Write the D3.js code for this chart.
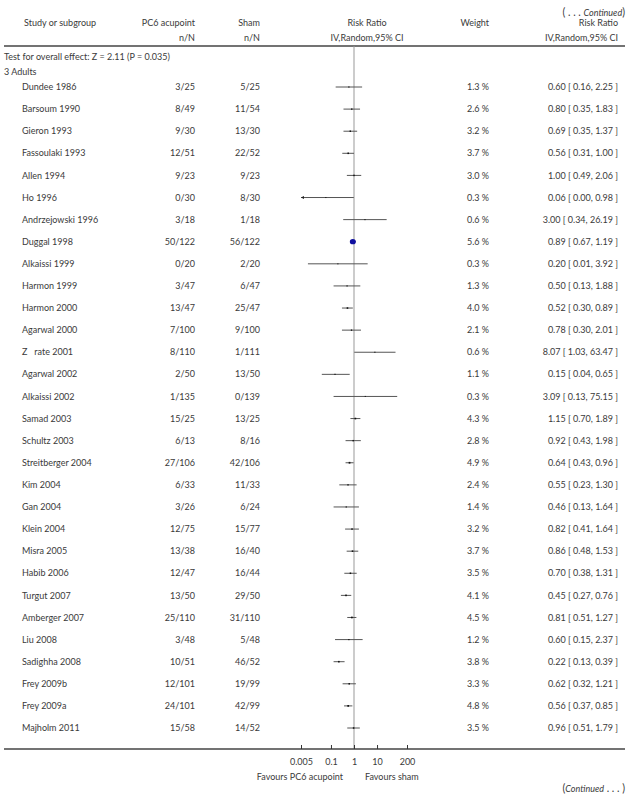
<!DOCTYPE html>
<meta charset="utf-8">
<style>
body { margin: 0; background: #fff; }
svg text { font-family: Lato, "Open Sans", sans-serif; font-size: 9px; fill: #3a3a3a; }
.ci { stroke: #555; stroke-width: 1; }
.cont { font-size: 10.5px; }
</style>
<svg width="629" height="799"></svg>
<script src="https://d3js.org/d3.v7.min.js"></script>
<script>

var studies = ["Dundee 1986", "Barsoum 1990", "Gieron 1993", "Fassoulaki 1993", "Allen 1994", "Ho 1996",
  "Andrzejowski 1996", "Duggal 1998", "Alkaissi 1999", "Harmon 1999", "Harmon 2000", "Agarwal 2000",
  "Z\u00a0\u00a0\u00a0rate 2001", "Agarwal 2002", "Alkaissi 2002", "Samad 2003", "Schultz 2003", "Streitberger 2004",
  "Kim 2004", "Gan 2004", "Klein 2004", "Misra 2005", "Habib 2006", "Turgut 2007", "Amberger 2007",
  "Liu 2008", "Sadighha 2008", "Frey 2009b", "Frey 2009a", "Majholm 2011"];
var pc6 = ["3/25", "8/49", "9/30", "12/51", "9/23", "0/30", "3/18", "50/122", "0/20", "3/47", "13/47", "7/100",
  "8/110", "2/50", "1/135", "15/25", "6/13", "27/106", "6/33", "3/26", "12/75", "13/38", "12/47", "13/50",
  "25/110", "3/48", "10/51", "12/101", "24/101", "15/58"];
var sham = ["5/25", "11/54", "13/30", "22/52", "9/23", "8/30", "1/18", "56/122", "2/20", "6/47", "25/47", "9/100",
  "1/111", "13/50", "0/139", "13/25", "8/16", "42/106", "11/33", "6/24", "15/77", "16/40", "16/44", "29/50",
  "31/110", "5/48", "46/52", "19/99", "42/99", "14/52"];
var rr = [0.60, 0.80, 0.69, 0.56, 1.00, 0.06, 3.00, 0.89, 0.20, 0.50, 0.52, 0.78, 8.07, 0.15, 3.09, 1.15, 0.92,
  0.64, 0.55, 0.46, 0.82, 0.86, 0.70, 0.45, 0.81, 0.60, 0.22, 0.62, 0.56, 0.96];
var lo = [0.16, 0.35, 0.35, 0.31, 0.49, 0.00, 0.34, 0.67, 0.01, 0.13, 0.30, 0.30, 1.03, 0.04, 0.13, 0.70, 0.43,
  0.43, 0.23, 0.13, 0.41, 0.48, 0.38, 0.27, 0.51, 0.15, 0.13, 0.32, 0.37, 0.51];
var hi = [2.25, 1.83, 1.37, 1.00, 2.06, 0.98, 26.19, 1.19, 3.92, 1.88, 0.89, 2.01, 63.47, 0.65, 75.15, 1.89, 1.98,
  0.96, 1.30, 1.64, 1.64, 1.53, 1.31, 0.76, 1.27, 2.37, 0.39, 1.21, 0.85, 1.79];
var weight = [1.3, 2.6, 3.2, 3.7, 3.0, 0.3, 0.6, 5.6, 0.3, 1.3, 4.0, 2.1, 0.6, 1.1, 0.3, 4.3, 2.8, 4.9, 2.4, 1.4,
  3.2, 3.7, 3.5, 4.1, 4.5, 1.2, 3.8, 3.3, 4.8, 3.5];
var ticks = [0.005, 0.1, 1, 10, 200];

var svg = d3.select("svg");

var x = d3.scaleLog().domain([0.005, 200]).range([301, 407]);
var y = d3.scaleLinear().domain([0, studies.length - 1]).range([87, 728]);
var f2 = d3.format(".2f");

function txt(px, py, s, anchor) {
  return svg.append("text").attr("x", px).attr("y", py).attr("dy", "0.35em")
    .style("text-anchor", anchor || "start").text(s);
}

// header
var cont = txt(625, 12, "", "end").attr("class", "cont");
cont.append("tspan").text("( . . . ");
cont.append("tspan").style("font-style", "italic").style("font-size", "9px").text("Continued");
cont.append("tspan").text(")");

txt(24, 23, "Study or subgroup");
txt(195, 23, "PC6 acupoint", "end");
txt(260, 23, "Sham", "end");
txt(367, 23, "Risk Ratio", "middle");
txt(489, 23, "Weight", "end");
txt(618, 23, "Risk Ratio", "end");
txt(195, 38, "n/N", "end");
txt(260, 38, "n/N", "end");
txt(367, 38, "IV,Random,95% CI", "middle");
txt(618, 38, "IV,Random,95% CI", "end");

svg.append("line").attr("x1", 4).attr("x2", 625).attr("y1", 46).attr("y2", 46)
  .attr("stroke", "#444").attr("stroke-width", 1.5);

txt(4, 57, "Test for overall effect: Z = 2.11 (P = 0.035)");
txt(4, 72, "3 Adults");

// line of no effect
svg.append("line").attr("x1", x(1)).attr("x2", x(1)).attr("y1", 46).attr("y2", 749)
  .attr("stroke", "#999").attr("stroke-width", 1);

// rows
var row = svg.selectAll("g.row").data(studies).enter().append("g").attr("class", "row");

row.append("text").attr("x", 22).attr("y", function(d, i) { return y(i); }).attr("dy", "0.35em")
  .text(function(d) { return d; });
row.append("text").attr("x", 195).attr("y", function(d, i) { return y(i); }).attr("dy", "0.35em")
  .style("text-anchor", "end").text(function(d, i) { return pc6[i]; });
row.append("text").attr("x", 260).attr("y", function(d, i) { return y(i); }).attr("dy", "0.35em")
  .style("text-anchor", "end").text(function(d, i) { return sham[i]; });
row.append("text").attr("x", 489).attr("y", function(d, i) { return y(i); }).attr("dy", "0.35em")
  .style("text-anchor", "end").text(function(d, i) { return weight[i].toFixed(1) + " %"; });
row.append("text").attr("x", 618).attr("y", function(d, i) { return y(i); }).attr("dy", "0.35em")
  .style("text-anchor", "end")
  .text(function(d, i) { return f2(rr[i]) + " [ " + f2(lo[i]) + ", " + f2(hi[i]) + " ]"; });

// confidence intervals
function cx(v) { return x(Math.max(0.005, Math.min(200, v))); }
row.append("line").attr("class", "ci")
  .attr("x1", function(d, i) { return cx(lo[i]); })
  .attr("x2", function(d, i) { return cx(hi[i]); })
  .attr("y1", function(d, i) { return y(i); })
  .attr("y2", function(d, i) { return y(i); });

// arrow for truncated CI
row.filter(function(d, i) { return lo[i] < 0.005; }).append("path")
  .attr("d", function(d) {
    var i = studies.indexOf(d), x0 = x(0.005), y0 = y(i);
    return "M" + x0 + "," + y0 + "L" + (x0 + 3) + "," + (y0 - 1.5) + "L" + (x0 + 3) + "," + (y0 + 1.5) + "Z";
  })
  .attr("fill", "#222");

// point estimates
function side(i) { return 1 + weight[i] * 0.15; }
row.filter(function(d, i) { return i !== 7; }).append("rect")
  .attr("x", function(d) { var i = studies.indexOf(d); return x(rr[i]) - side(i) / 2; })
  .attr("y", function(d) { var i = studies.indexOf(d); return y(i) - side(i) / 2; })
  .attr("width", function(d) { return side(studies.indexOf(d)); })
  .attr("height", function(d) { return side(studies.indexOf(d)); })
  .attr("fill", "#111");

row.filter(function(d, i) { return i === 7; }).append("ellipse")
  .attr("cx", x(rr[7]))
  .attr("cy", y(7))
  .attr("rx", 3).attr("ry", 2.6)
  .attr("fill", "#1010a0");

// bottom axis
svg.append("line").attr("x1", 4).attr("x2", 625).attr("y1", 749).attr("y2", 749)
  .attr("stroke", "#444").attr("stroke-width", 1.5);

var axis = svg.append("g").attr("transform", "translate(0,749)")
  .call(d3.axisBottom(x).tickValues(ticks).tickSize(-4).tickPadding(9)
    .tickFormat(function(d) { return String(d); }));
axis.select(".domain").remove();
axis.selectAll(".tick line").attr("stroke", "#333");
axis.selectAll("text").attr("dy", "0.35em").attr("y", 13)
  .attr("font-family", null).attr("font-size", null);

txt(343, 777, "Favours PC6 acupoint", "end");
txt(365, 777, "Favours sham");

var cont2 = txt(625, 788, "", "end").attr("class", "cont");
cont2.append("tspan").text("(");
cont2.append("tspan").style("font-style", "italic").style("font-size", "9px").text("Continued");
cont2.append("tspan").text(" . . . )");

</script>
